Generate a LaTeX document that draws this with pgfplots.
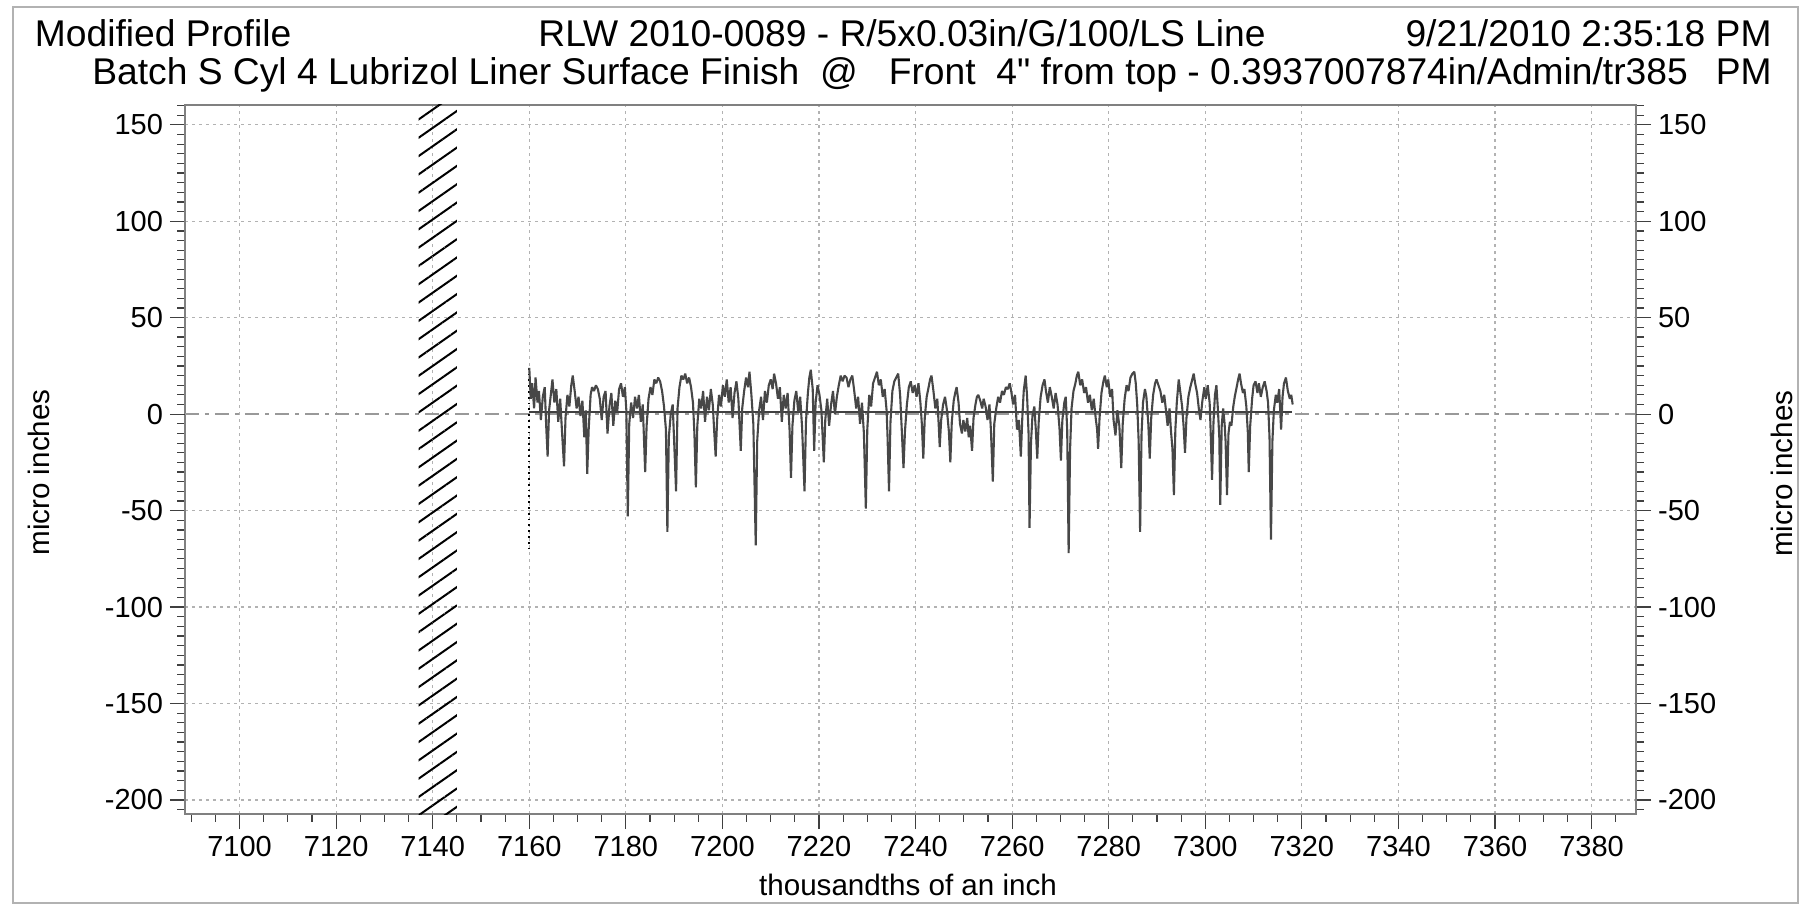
\documentclass[border=0pt]{standalone}
\usepackage{fontspec}
\setmainfont{Liberation Sans}[Ligatures=TeXOff]
\usepackage{pgfplots}
\pgfplotsset{compat=1.18}
\usetikzlibrary{patterns.meta}

\pgfplotsset{
  profaxis/.style={
    scale only axis, width=725.5pt, height=354.5pt,
    xmin=7088.7, xmax=7389.2, ymin=-207.3, ymax=160.3,
    ytick={-200,-150,-100,-50,50,100,150},
    extra y ticks={0},
    minor ytick={-205,-200,...,160},
    tick align=outside,
    major tick length=7.5pt, minor tick length=3.75pt,
    tick style={black!75, line width=0.6pt},
    ticklabel style={font=\fontsize{14.5}{16}\selectfont},
    label style={font=\fontsize{14.8}{16}\selectfont},
    /pgf/number format/assume math mode=true,
    /pgf/number format/1000 sep={},
    axis line style={gray, line width=0.8pt},
  }
}

\begin{document}
\begin{tikzpicture}
\useasboundingbox (-92.5pt,-46.5pt) rectangle (809.5pt,407pt);
\draw[gray!60, line width=1pt] (-86pt,-44.5pt) rectangle (806.5pt,403.5pt);

\begin{axis}[profaxis,
  xtick={7100,7120,...,7380},
  minor xtick={7090,7095,...,7385},
  xtick pos=bottom, ytick pos=left,
  grid=major,
  grid style={gray!60, dash pattern=on 1.5pt off 2pt, line width=0.6pt},
  extra y tick style={grid=major, grid style={gray!80, dash pattern=on 7pt off 3pt on 2pt off 3pt, line width=0.7pt}},
  xlabel={thousandths of an inch}, ylabel={micro inches},
  xlabel style={at={(axis description cs:0.4983,-0.1155)}, anchor=base},
  ylabel style={at={(axis description cs:-0.0934,0.4817)}, anchor=base},
]
% hatched exclusion band
\addplot[draw=none, pattern={Lines[angle=35,distance=7.5pt,line width=1pt]}, pattern color=black]
  coordinates {(7137.1,-210) (7145,-210) (7145,165) (7137.1,165)} -- cycle;
% mean line
\addplot[black!75, line width=1pt] coordinates {(7160,1) (7318,1)};
% start marker
\addplot[black, dotted, line width=0.9pt] coordinates {(7160,24) (7160,-71)};
% profile
\addplot[black!72, line width=1.05pt, line join=bevel] coordinates {
(7160.0,24) (7160.3,8) (7160.6,16) (7161.0,3) (7161.3,19) (7161.7,6) (7162.0,12) (7162.4,-3) (7162.8,9) (7163.2,14)
(7163.5,-6) (7163.8,-22) (7164.1,2) (7164.5,11) (7164.8,18) (7165.2,6) (7165.6,13) (7166.0,-4) (7166.4,8) (7166.8,-10)
(7167.2,-27) (7167.5,-2) (7167.9,10) (7168.3,4) (7168.7,15) (7169.0,20) (7169.4,12) (7169.8,3)
(7170.2,9) (7170.6,-1) (7171.0,7) (7171.4,-12) (7171.7,2) (7172.0,-31) (7172.3,-8) (7172.7,10) (7173.0,14) (7173.4,12)
(7173.8,15) (7174.2,13) (7174.6,8) (7175.0,-3) (7175.4,9) (7175.8,12) (7176.2,-10) (7176.6,4) (7177.0,11) (7177.4,-6)
(7177.8,7) (7178.2,1) (7178.6,13) (7179.0,16) (7179.4,9) (7179.8,14) (7180.1,2) (7180.4,-53) (7180.7,-5)
(7181.1,6) (7181.5,-2) (7181.9,9) (7182.3,3) (7182.7,10) (7183.1,-4) (7183.5,5) (7184.0,-30) (7184.3,-6) (7184.7,8)
(7185.1,14) (7185.5,10) (7185.9,18) (7186.3,16) (7186.7,19) (7187.1,17) (7187.5,12) (7187.9,4) (7188.3,-8) (7188.6,-61)
(7188.9,-12) (7189.3,0) (7189.7,5) (7190.0,-14) (7190.4,-40) (7190.7,3)
(7191.1,14) (7191.5,20) (7191.9,18) (7192.3,21) (7192.7,16) (7193.1,19) (7193.5,14) (7193.9,6) (7194.2,-10) (7194.5,-38)
(7194.8,-6) (7195.2,8) (7195.6,3) (7196.0,12) (7196.4,-4) (7196.8,9) (7197.2,2) (7197.6,13) (7198.0,5) (7198.3,-9)
(7198.6,-22) (7198.9,-3) (7199.3,10) (7199.7,4)
(7200.1,15) (7200.5,9) (7200.9,18) (7201.3,6) (7201.7,14) (7202.1,-2) (7202.5,11) (7202.9,17) (7203.3,8) (7203.8,-19)
(7204.1,3) (7204.5,12) (7204.9,19) (7205.3,14) (7205.6,22) (7206.0,10) (7206.4,-5) (7206.9,-68) (7207.2,-14) (7207.6,2)
(7208.0,9) (7208.4,-3) (7208.8,12) (7209.2,6) (7209.6,15)
(7210.0,18) (7210.4,13) (7210.7,21) (7211.1,16) (7211.5,8) (7211.9,14) (7212.3,-4) (7212.7,10) (7213.1,3) (7213.5,11)
(7213.9,-8) (7214.2,-33) (7214.5,-6) (7214.9,7) (7215.3,12) (7215.7,1) (7216.1,9) (7216.5,-7) (7217.0,-40) (7217.3,-4)
(7217.7,11) (7218.0,19) (7218.3,23) (7218.7,13) (7219.0,-19) (7219.3,6) (7219.7,15)
(7220.1,10) (7220.5,2) (7221.0,-25) (7221.3,-3) (7221.7,8) (7222.1,-6) (7222.5,5) (7222.9,12) (7223.3,0) (7223.7,9)
(7224.1,15) (7224.5,20) (7224.9,17) (7225.3,20) (7225.7,19) (7226.1,14) (7226.5,18) (7226.9,20) (7227.3,12) (7227.7,3)
(7228.1,9) (7228.5,-5) (7228.9,6) (7229.3,-10) (7229.7,-49) (7230.0,-8)
(7230.4,10) (7230.8,4) (7231.2,16) (7231.6,19) (7232.0,22) (7232.4,15) (7232.8,18) (7233.2,9) (7233.6,13) (7234.0,2)
(7234.2,-12) (7234.5,-40) (7234.8,-4) (7235.2,12) (7235.6,17) (7236.0,19) (7236.4,21) (7236.8,10) (7237.1,-6) (7237.5,-28)
(7237.8,-9) (7238.2,5) (7238.6,14) (7239.0,17) (7239.4,11) (7239.8,15)
(7240.2,9) (7240.6,16) (7241.0,6) (7241.3,-5) (7241.6,-23) (7241.9,-2) (7242.3,9) (7242.7,14) (7243.0,18) (7243.3,20)
(7243.7,12) (7244.1,3) (7244.5,8) (7244.8,-6) (7245.0,-17) (7245.3,-3) (7245.7,5) (7246.1,9) (7246.5,2) (7246.9,-9)
(7247.2,-25) (7247.5,-4) (7247.9,7) (7248.2,11) (7248.5,14) (7248.9,6) (7249.2,-5) (7249.6,-10) (7249.9,-3)
(7250.3,-9) (7250.7,-2) (7251.0,-12) (7251.3,-6) (7251.7,-19) (7252.0,-2) (7252.4,5) (7252.7,9) (7253.0,10) (7253.4,7)
(7253.8,3) (7254.1,8) (7254.5,4) (7254.9,-3) (7255.3,5) (7255.6,-8) (7256.0,-35) (7256.3,-5) (7256.7,3) (7257.1,9)
(7257.5,6) (7257.9,12) (7258.3,10) (7258.7,14) (7259.1,13) (7259.5,16) (7259.8,12)
(7260.2,5) (7260.6,10) (7261.0,-8) (7261.4,-3) (7261.8,-22) (7262.1,-2) (7262.4,12) (7262.8,20) (7263.1,9) (7263.4,-10)
(7263.6,-59) (7263.9,-15) (7264.2,-1) (7264.6,4) (7264.9,-8) (7265.2,-23) (7265.5,-4) (7265.9,9) (7266.3,15) (7266.7,18)
(7267.0,12) (7267.4,6) (7267.8,14) (7268.2,9) (7268.6,3) (7269.0,11) (7269.4,5) (7269.8,-7)
(7270.1,-24) (7270.4,-3) (7270.8,6) (7271.1,9) (7271.4,-8) (7271.7,-72) (7272.0,-18) (7272.3,3) (7272.7,12) (7273.1,16)
(7273.4,20) (7273.7,22) (7274.1,15) (7274.5,18) (7274.9,11) (7275.3,14) (7275.7,6) (7276.1,10) (7276.5,2) (7276.9,8)
(7277.3,-2) (7277.6,-8) (7277.8,-18) (7278.1,-2) (7278.5,11) (7278.9,17) (7279.2,20) (7279.6,14) (7279.9,18)
(7280.3,9) (7280.7,13) (7281.0,-3) (7281.4,-11) (7281.8,2) (7282.2,-6) (7282.6,-28) (7282.9,-5) (7283.3,8) (7283.7,15)
(7284.1,12) (7284.5,19) (7284.9,21) (7285.3,22) (7285.6,16) (7285.9,5) (7286.2,-14) (7286.5,-61) (7286.8,-10) (7287.1,6)
(7287.5,13) (7287.8,9) (7288.2,-5) (7288.5,-23) (7288.8,-2) (7289.2,10) (7289.6,16) (7289.9,18)
(7290.3,15) (7290.7,12) (7291.1,6) (7291.5,10) (7291.9,1) (7292.2,-6) (7292.6,3) (7292.9,-9) (7293.2,-18) (7293.5,-42)
(7293.8,-8) (7294.1,6) (7294.5,18) (7294.8,12) (7295.2,4) (7295.5,-6) (7295.8,-20) (7296.1,-2) (7296.5,9) (7296.9,14)
(7297.3,18) (7297.6,21) (7297.9,16) (7298.3,11) (7298.7,2) (7299.0,-3) (7299.4,7) (7299.8,14)
(7300.1,8) (7300.5,15) (7300.9,6) (7301.1,-8) (7301.4,-34) (7301.7,-4) (7302.0,10) (7302.3,15) (7302.6,3) (7302.9,-12)
(7303.1,-47) (7303.4,-6) (7303.7,3) (7304.0,-5) (7304.2,-14) (7304.5,-42) (7304.8,-10) (7305.1,-4) (7305.4,-6) (7305.8,4)
(7306.1,9) (7306.5,14) (7306.8,18) (7307.1,21) (7307.4,16) (7307.8,11) (7308.1,13) (7308.5,4) (7308.8,-9) (7309.0,-30)
(7309.3,-6) (7309.7,8)
(7310.0,15) (7310.4,17) (7310.8,11) (7311.1,16) (7311.5,9) (7311.9,14) (7312.3,17) (7312.7,12) (7313.0,6) (7313.3,-12)
(7313.6,-65) (7313.9,-14) (7314.2,2) (7314.6,10) (7314.9,6) (7315.3,13) (7315.7,-8) (7316.0,9) (7316.3,16) (7316.7,19)
(7317.1,12) (7317.5,8) (7317.8,10) (7318.1,5)
};
\end{axis}

\begin{axis}[profaxis,
  axis y line*=right, axis x line=none,
  ylabel={micro inches},
  ylabel style={at={(axis description cs:1.1075,0.480)}, anchor=base},
]
\end{axis}

\begin{scope}[every node/.style={inner sep=0pt, font=\fontsize{18.6}{20}\selectfont}]
\node[anchor=base west] at (-75.25pt,383.5pt) {Modified Profile};
\node[anchor=base west] at (176.5pt,383.5pt) {RLW 2010-0089 - R/5x0.03in/G/100/LS Line};
\node[anchor=base east] at (793.5pt,383.5pt) {9/21/2010 2:35:18 PM};
\node[anchor=base west] at (-46.5pt,364.5pt) {Batch S Cyl 4 Lubrizol Liner Surface Finish~~@~~~Front~~4" from top - 0.3937007874in/Admin/tr385};
\node[anchor=base east] at (793.5pt,364.5pt) {PM};
\end{scope}
\end{tikzpicture}
\end{document}
